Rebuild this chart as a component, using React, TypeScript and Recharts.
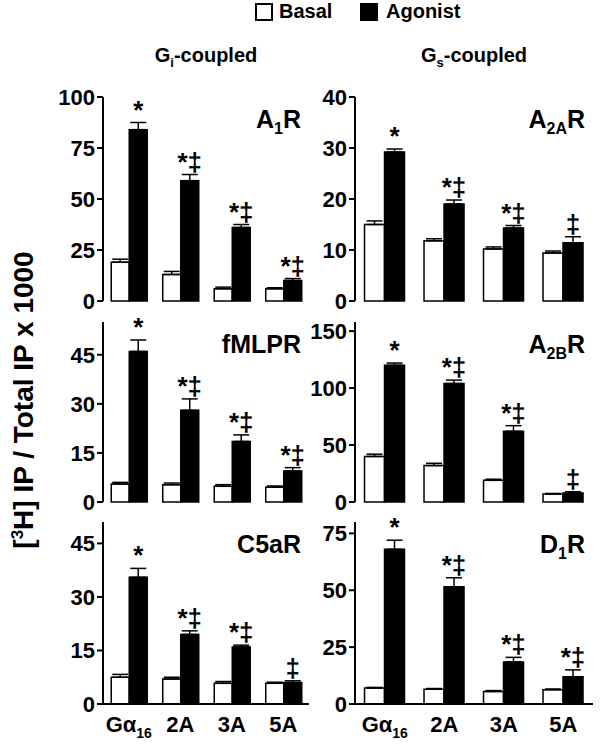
import React from "react";
import { BarChart, Bar, XAxis, YAxis, ErrorBar, LabelList } from "recharts";

const categories = ["Gα16", "2A", "3A", "5A"];

const a1rBasal = [19, 13, 6, 6];
const a1rBasalErr = [1.5, 1.5, 0.8, 0.5];
const a1rAgonist = [84, 59, 36, 10];
const a1rAgonistErr = [3.5, 3, 1.5, 1];
const a1rSig = ["*", "*‡", "*‡", "*‡"];

const a2aBasal = [15, 11.8, 10.2, 9.4];
const a2aBasalErr = [0.7, 0.4, 0.4, 0.4];
const a2aAgonist = [29.2, 19, 14.3, 11.4];
const a2aAgonistErr = [0.6, 0.8, 0.5, 1.2];
const a2aSig = ["*", "*‡", "*‡", "‡"];

const fmlBasal = [5.5, 5.3, 4.8, 4.5];
const fmlBasalErr = [0.5, 0.5, 0.5, 0.4];
const fmlAgonist = [46, 28, 18.5, 9.5];
const fmlAgonistErr = [3.5, 3.5, 2, 1];
const fmlSig = ["*", "*‡", "*‡", "*‡"];

const a2bBasal = [40, 32, 19, 7];
const a2bBasalErr = [2, 2, 1, 0.5];
const a2bAgonist = [120, 104, 62, 8];
const a2bAgonistErr = [2, 3, 5, 1];
const a2bSig = ["*", "*‡", "*‡", "‡"];

const c5aBasal = [7.5, 7, 5.8, 5.8];
const c5aBasalErr = [0.8, 0.5, 0.5, 0.3];
const c5aAgonist = [35.5, 19.5, 16, 6];
const c5aAgonistErr = [2.5, 1, 0.5, 0.5];
const c5aSig = ["*", "*‡", "*‡", "‡"];

const d1rBasal = [7, 6.5, 5.5, 6.3];
const d1rBasalErr = [0.3, 0.3, 0.4, 0.3];
const d1rAgonist = [68, 51.5, 18.5, 12];
const d1rAgonistErr = [4, 4, 2, 3];
const d1rSig = ["*", "*‡", "*‡", "*‡"];

const FONT = "'Liberation Sans', Arial, sans-serif";

function build(b: number[], be: number[], a: number[], ae: number[], s: string[]) {
  return categories.map((c, i) => ({
    cat: c,
    basal: b[i],
    basalErr: [0, be[i]],
    agonist: a[i],
    agonistErr: [0, ae[i]],
    aerr: ae[i],
    sig: s[i],
  }));
}

const XTick = (props: any) => {
  const { x, y, payload } = props;
  const v = payload.value as string;
  if (v === "Gα16") {
    return (
      <text x={x} y={y + 20} textAnchor="middle" fontFamily={FONT} fontWeight="bold" fontSize={22} fill="#000">
        Gα<tspan fontSize={14} dy={6}>16</tspan>
      </text>
    );
  }
  return (
    <text x={x} y={y + 20} textAnchor="middle" fontFamily={FONT} fontWeight="bold" fontSize={22} fill="#000">
      {v}
    </text>
  );
};

type PanelProps = {
  data: any[];
  left: number;
  top: number;
  w: number;
  h: number;
  max: number;
  ticks: number[];
  bottom: boolean;
  name: string;
  sub?: string;
};

function Panel({ data, left, top, w, h, max, ticks, bottom, name, sub }: PanelProps) {
  const yw = 60;
  const pad = 14;
  const xh = bottom ? 34 : 0;
  const sigLabel = (p: any) => {
    const { x, y, width, height, index, value } = p;
    const d = data[index];
    const errPx = d.agonist ? (d.aerr * height) / d.agonist : 0;
    return (
      <text x={x + width / 2} y={y - errPx - 4} textAnchor="middle" fontFamily={FONT} fontWeight="bold" fontSize={26} fill="#000">
        {value}
      </text>
    );
  };
  return (
    <div style={{ position: "absolute", left: left - yw, top: top - pad }}>
      <BarChart
        width={w + yw + pad}
        height={h + 2 * pad + xh}
        data={data}
        margin={{ top: pad, right: pad, bottom: pad, left: 0 }}
        barCategoryGap="16%"
        barGap={0}
      >
        <XAxis
          xAxisId="b"
          dataKey="cat"
          axisLine={{ stroke: "#000", strokeWidth: 2 }}
          tickLine={false}
          tick={bottom ? <XTick /> : false}
          height={xh}
        />
        <XAxis xAxisId="t" dataKey="cat" orientation="top" axisLine={{ stroke: "#000", strokeWidth: 2 }} tick={false} tickLine={false} height={0} />
        <YAxis
          yAxisId="l"
          domain={[0, max]}
          ticks={ticks}
          width={yw}
          axisLine={{ stroke: "#000", strokeWidth: 2 }}
          tickLine={{ stroke: "#000", strokeWidth: 2 }}
          tickSize={6}
          interval={0}
          tick={{ fontFamily: FONT, fontWeight: "bold", fontSize: 22, fill: "#000" }}
        />
        <YAxis yAxisId="r" orientation="right" domain={[0, max]} width={0} axisLine={{ stroke: "#000", strokeWidth: 2 }} tick={false} tickLine={false} />
        <Bar xAxisId="b" yAxisId="l" dataKey="basal" fill="#fff" stroke="#000" strokeWidth={1.5} isAnimationActive={false}>
          <ErrorBar dataKey="basalErr" width={8} stroke="#000" strokeWidth={1.5} direction="y" />
        </Bar>
        <Bar xAxisId="b" yAxisId="l" dataKey="agonist" fill="#000" stroke="#000" strokeWidth={1.5} isAnimationActive={false}>
          <ErrorBar dataKey="agonistErr" width={8} stroke="#000" strokeWidth={1.5} direction="y" />
          <LabelList dataKey="sig" content={sigLabel} />
        </Bar>
      </BarChart>
      <div
        style={{
          position: "absolute",
          right: pad + 8,
          top: pad + 10,
          fontFamily: FONT,
          fontWeight: "bold",
          fontSize: 25,
          color: "#000",
          lineHeight: 1,
        }}
      >
        {name.charAt(0)}
        {sub ? <sub style={{ fontSize: 16 }}>{sub}</sub> : null}
        {name.slice(1)}
      </div>
    </div>
  );
}

export default function App() {
  const L1 = 103, L2 = 355, W1 = 206, W2 = 238;
  const rows = [
    { top: 97, h: 204 },
    { top: 322, h: 180 },
    { top: 522, h: 182 },
  ];
  return (
    <div style={{ position: "absolute", left: 0, top: 0, width: 600, height: 753, background: "#fff", fontFamily: FONT }}>
      {/* legend */}
      <div style={{ position: "absolute", left: 255, top: 3, width: 14, height: 14, border: "2px solid #000", background: "#fff" }} />
      <div style={{ position: "absolute", left: 279, top: 0, fontWeight: "bold", fontSize: 20 }}>Basal</div>
      <div style={{ position: "absolute", left: 360, top: 3, width: 18, height: 18, background: "#000" }} />
      <div style={{ position: "absolute", left: 386, top: 0, fontWeight: "bold", fontSize: 20 }}>Agonist</div>
      {/* column titles */}
      <div style={{ position: "absolute", left: L1, width: W1, top: 44, textAlign: "center", fontWeight: "bold", fontSize: 20 }}>
        G<sub style={{ fontSize: 13 }}>i</sub>-coupled
      </div>
      <div style={{ position: "absolute", left: L2, width: W2, top: 44, textAlign: "center", fontWeight: "bold", fontSize: 20 }}>
        G<sub style={{ fontSize: 13 }}>s</sub>-coupled
      </div>
      {/* y label */}
      <div
        style={{
          position: "absolute",
          left: 24,
          top: 400,
          transform: "translate(-50%, -50%) rotate(-90deg)",
          whiteSpace: "nowrap",
          fontWeight: "bold",
          fontSize: 28,
        }}
      >
        [<sup style={{ fontSize: 17 }}>3</sup>H] IP / Total IP x 1000
      </div>
      <Panel data={build(a1rBasal, a1rBasalErr, a1rAgonist, a1rAgonistErr, a1rSig)} left={L1} top={rows[0].top} w={W1} h={rows[0].h} max={100} ticks={[0, 25, 50, 75, 100]} bottom={false} name="AR" sub="1" />
      <Panel data={build(a2aBasal, a2aBasalErr, a2aAgonist, a2aAgonistErr, a2aSig)} left={L2} top={rows[0].top} w={W2} h={rows[0].h} max={40} ticks={[0, 10, 20, 30, 40]} bottom={false} name="AR" sub="2A" />
      <Panel data={build(fmlBasal, fmlBasalErr, fmlAgonist, fmlAgonistErr, fmlSig)} left={L1} top={rows[1].top} w={W1} h={rows[1].h} max={55} ticks={[0, 15, 30, 45]} bottom={false} name="fMLPR" />
      <Panel data={build(a2bBasal, a2bBasalErr, a2bAgonist, a2bAgonistErr, a2bSig)} left={L2} top={rows[1].top} w={W2} h={rows[1].h} max={158} ticks={[0, 50, 100, 150]} bottom={false} name="AR" sub="2B" />
      <Panel data={build(c5aBasal, c5aBasalErr, c5aAgonist, c5aAgonistErr, c5aSig)} left={L1} top={rows[2].top} w={W1} h={rows[2].h} max={51} ticks={[0, 15, 30, 45]} bottom={true} name="C5aR" />
      <Panel data={build(d1rBasal, d1rBasalErr, d1rAgonist, d1rAgonistErr, d1rSig)} left={L2} top={rows[2].top} w={W2} h={rows[2].h} max={80} ticks={[0, 25, 50, 75]} bottom={true} name="DR" sub="1" />
    </div>
  );
}
